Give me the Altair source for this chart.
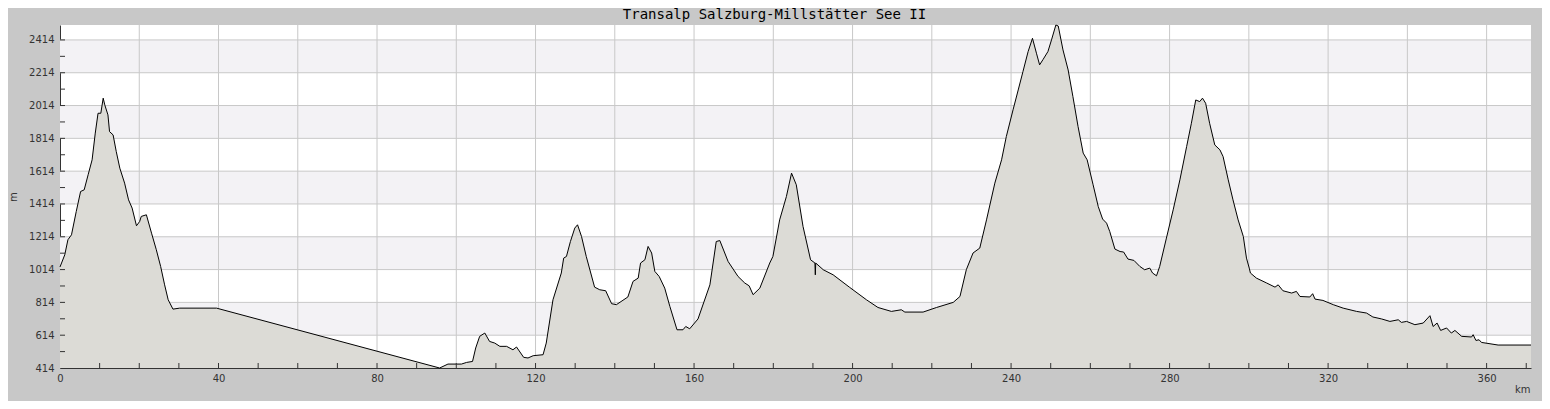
import altair as alt
import pandas as pd

km = [0, 1.2, 2.0, 2.9, 4.1, 5.2, 6.1, 7.1, 8.1, 8.9, 9.6, 10.3, 10.9, 11.3, 12.1, 12.5, 13.4, 14.2, 15.1, 16.3,
      17.3, 18.2, 19.3, 20.1, 20.5, 21.8, 23.1, 24.3, 25.4, 26.4, 27.3, 28.5, 30.2, 39.5, 95.8, 97.9, 101.3, 102.6,
      104.1, 104.9, 105.9, 107.2, 108.4, 109.7, 111.0, 112.7, 114.3, 115.2, 117.0, 118.1, 119.4, 121.9, 122.7,
      124.4, 126.5, 127.1, 127.8, 128.8, 129.9, 130.6, 131.6, 132.8, 134.9, 136.2, 137.7, 139.2, 140.4, 143.3,
      144.6, 145.9, 146.5, 147.6, 148.4, 149.3, 150.1, 151.2, 152.6, 153.9, 155.7, 157.2, 157.9, 158.9, 161.0,
      164.0, 165.6, 166.5, 168.6, 171.1, 172.8, 173.9, 174.9, 176.6, 179.1, 179.9, 181.6, 183.3, 184.6, 185.8,
      187.5, 189.4, 190.5, 190.6, 190.7, 192.6, 195.1, 199.3, 203.5, 206.4, 209.8, 212.3, 213.2, 217.8, 221.2,
      225.4, 227.1, 228.7, 230.4, 232.1, 233.8, 235.9, 237.6, 238.8, 240.5, 241.8, 243.0, 244.3, 245.4, 246.4,
      247.2, 248.1, 249.3, 250.2, 251.3, 251.9, 253.1, 254.4, 255.6, 256.9, 258.2, 259.2, 260.7, 262.0, 263.1,
      264.1, 264.9, 266.2, 267.5, 268.4, 269.5, 271.0, 272.5, 273.7, 275.0, 275.7, 276.7, 277.5, 279.2, 280.9,
      282.6, 284.3, 285.5, 286.6, 287.6, 288.3, 289.1, 290.1, 291.4, 292.7, 293.5, 294.8, 296.0, 297.3, 298.6,
      299.4, 300.1, 300.4, 301.9, 304.5, 306.6, 307.4, 308.6, 310.8, 312.0, 312.9, 315.4, 316.1, 316.7, 318.7,
      321.3, 323.8, 327.2, 329.7, 331.3, 333.5, 335.6, 337.7, 338.5, 339.8, 341.9, 344.0, 345.7, 346.5, 347.5,
      348.4, 349.9, 351.1, 352.0, 353.7, 356.2, 356.6, 357.3, 358.1, 358.7, 362.9, 371.2]

elev = [1030, 1104, 1196, 1226, 1368, 1490, 1500, 1592, 1683, 1846, 1967, 1967, 2059, 2018, 1957, 1855, 1835, 1733,
        1632, 1541, 1439, 1389, 1281, 1307, 1338, 1348, 1236, 1135, 1033, 921, 830, 773, 779, 779, 414, 438, 438,
        448, 454, 536, 607, 627, 576, 566, 546, 546, 525, 542, 479, 475, 489, 495, 566, 830, 993, 1084, 1094,
        1185, 1267, 1287, 1216, 1094, 907, 891, 885, 806, 800, 847, 942, 962, 1054, 1074, 1155, 1115, 1003, 972,
        901, 789, 647, 647, 667, 653, 713, 921, 1185, 1191, 1063, 972, 932, 915, 861, 901, 1054, 1094, 1317, 1459,
        1602, 1531, 1277, 1074, 1054, 982, 1054, 1013, 982, 905, 830, 783, 759, 769, 755, 755, 783, 814, 850,
        1013, 1115, 1145, 1317, 1541, 1683, 1825, 1988, 2109, 2221, 2343, 2424, 2333, 2262, 2296, 2343, 2414,
        2505, 2499, 2353, 2231, 2069, 1886, 1724, 1683, 1531, 1398, 1322, 1297, 1246, 1139, 1124, 1121, 1078,
        1070, 1033, 1013, 1023, 993, 976, 1033, 1206, 1378, 1561, 1764, 1906, 2048, 2038, 2059, 2028, 1906, 1774,
        1744, 1703, 1561, 1439, 1317, 1216, 1084, 1023, 993, 962, 932, 907, 921, 885, 871, 881, 850, 847, 867,
        834, 826, 800, 779, 759, 749, 725, 713, 698, 708, 692, 698, 678, 688, 733, 667, 688, 643, 658, 627, 643,
        607, 603, 617, 582, 586, 570, 554, 554]

assert len(km) == len(elev), (len(km), len(elev))

title_text = "Transalp Salzburg-Millstätter See II"
x_label_values = [0, 40, 80, 120, 160, 200, 240, 280, 320, 360]
y_label_values = [414, 614, 814, 1014, 1214, 1414, 1614, 1814, 2014, 2214, 2414]
x_grid = [20, 40, 60, 80, 100, 120, 140, 160, 180, 200, 220, 240, 260, 280, 300, 320, 340, 360]
y_grid = [614, 814, 1014, 1214, 1414, 1614, 1814, 2014, 2214, 2414]
x_ticks = [10, 20, 30, 40, 50, 60, 70, 80, 90, 100, 110, 120, 130, 140, 150, 160, 170, 180, 190, 200,
           210, 220, 230, 240, 250, 260, 270, 280, 290, 300, 310, 320, 330, 340, 350, 360, 370]
y_ticks = [514, 614, 714, 814, 914, 1014, 1114, 1214, 1314, 1414, 1514, 1614, 1714, 1814, 1914, 2014,
           2114, 2214, 2314, 2414]
band_lo = [614, 1014, 1414, 1814, 2214]
band_hi = [814, 1214, 1614, 2014, 2414]

W, H = 1471, 343
xs = alt.Scale(domain=[0, 371.2], nice=False, zero=False)
ys = alt.Scale(domain=[414, 2505], nice=False, zero=False)

xaxis = alt.Axis(values=x_label_values, ticks=False, grid=False, labelFlush=False, format="d",
                 labelFontSize=10, labelFont="DejaVu Sans", labelColor="#333333",
                 labelPadding=5, domainColor="#333333", domainWidth=1,
                 title="km", titleFont="DejaVu Sans", titleFontSize=10, titleFontWeight="normal",
                 titleColor="#333333", titleAnchor="end", titleAlign="right",
                 titleBaseline="alphabetic", titleX=W - 1, titleY=24)
yaxis = alt.Axis(values=y_label_values, ticks=False, grid=False, labelFlush=False, format="d",
                 labelFontSize=10, labelFont="DejaVu Sans", labelColor="#333333",
                 labelPadding=6, domainColor="#333333", domainWidth=1,
                 title="m", titleFont="DejaVu Sans", titleFontSize=10, titleFontWeight="normal",
                 titleColor="#333333", titleAngle=270, titleAlign="center",
                 titleBaseline="middle", titleX=-47, titleY=H / 2)

prof = pd.DataFrame({"km": km, "m": elev})
bands = pd.DataFrame({"lo": band_lo, "hi": band_hi})

band_layer = alt.Chart(bands).mark_rect(color="#f3f2f5").encode(
    y=alt.Y("lo:Q", scale=ys, axis=yaxis), y2="hi:Q",
    x=alt.value(0), x2=alt.value(W))

vgrid = alt.Chart(pd.DataFrame({"v": x_grid})).mark_rule(color="#c8c8c8", strokeWidth=1).encode(
    x=alt.X("v:Q", scale=xs, axis=xaxis))
hgrid = alt.Chart(pd.DataFrame({"v": y_grid})).mark_rule(color="#c8c8c8", strokeWidth=1).encode(
    y=alt.Y("v:Q", scale=ys, axis=yaxis))

area = alt.Chart(prof).mark_area(color="#dcdbd6", opacity=1, line={"color": "#000000", "strokeWidth": 1},
                                  interpolate="linear").encode(
    x=alt.X("km:Q", scale=xs, axis=xaxis),
    y=alt.Y("m:Q", scale=ys, axis=yaxis),
    y2=alt.datum(414))

xtick = alt.Chart(pd.DataFrame({"v": x_ticks})).mark_rule(color="#333333", strokeWidth=1).encode(
    x=alt.X("v:Q", scale=xs, axis=xaxis), y=alt.value(H - 5), y2=alt.value(H))
ytick = alt.Chart(pd.DataFrame({"v": y_ticks})).mark_rule(color="#333333", strokeWidth=1).encode(
    y=alt.Y("v:Q", scale=ys, axis=yaxis), x=alt.value(0), x2=alt.value(5))

title_layer = alt.Chart(pd.DataFrame({"t": [title_text]})).mark_text(
    font="DejaVu Sans Mono", fontSize=14, color="#000000", align="center", baseline="alphabetic").encode(
    text="t:N", x=alt.value(W / 2 - 21), y=alt.value(-6))

chart = alt.layer(band_layer, vgrid, hgrid, area, xtick, ytick, title_layer).properties(
    width=W, height=H,
    padding={"left": 52, "top": 17, "right": 11, "bottom": 33},
    autosize=alt.AutoSizeParams(type="none"),
    background="#c8c8c8",
).configure_view(fill="#ffffff", stroke=None)

chart.save("out.html", embed_options={"renderer": "svg", "actions": False})
